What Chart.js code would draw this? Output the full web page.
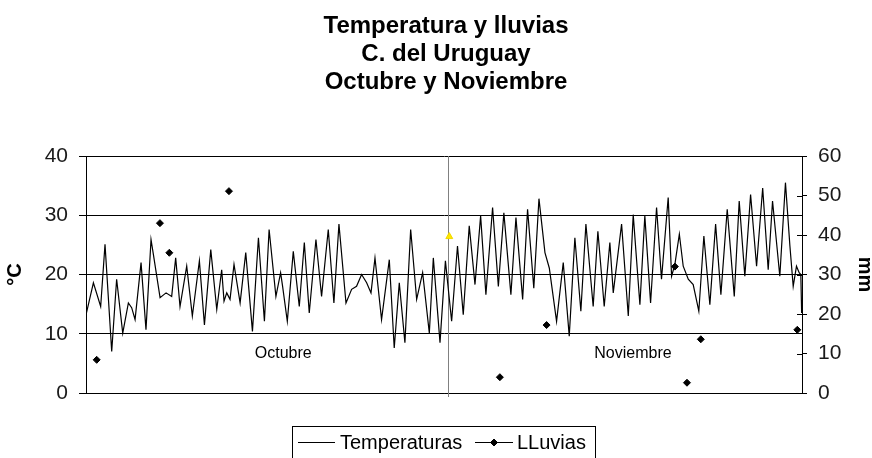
<!DOCTYPE html>
<html lang="es">
<head>
<meta charset="utf-8">
<title>Temperatura y lluvias - C. del Uruguay</title>
<script src="https://cdn.jsdelivr.net/npm/chart.js@4.4.1/dist/chart.umd.min.js"></script>
<style>
  html, body { margin: 0; padding: 0; background: #fff; }
  #grafico { display: block; }
</style>
</head>
<body>
<canvas id="grafico" width="872" height="458"></canvas>
<script>
// Temperaturas (dia contado desde el 1 de octubre, en °C)
const diasTemp = [
    0.00, 0.63, 1.25, 1.62, 2.19, 2.61, 3.13, 3.61, 3.89, 4.18,
    4.69, 5.11, 5.54, 5.74, 6.31, 6.82, 7.30, 7.64, 8.01, 8.58,
    9.06, 9.66, 10.09, 10.63, 11.14, 11.56, 11.76, 11.99, 12.27, 12.61,
    13.13, 13.61, 14.18, 14.69, 15.20, 15.60, 16.18, 16.58, 16.75, 17.15,
    17.66, 18.17, 18.60, 19.02, 19.59, 20.07, 20.64, 21.12, 21.55, 22.15,
    22.63, 23.05, 23.48, 23.91, 24.28, 24.62, 25.18, 25.84, 26.26, 26.69,
    27.17, 27.66, 28.17, 28.68, 29.25, 29.59, 30.16, 30.62, 31.15, 31.65,
    32.14, 32.65, 33.14, 33.62, 34.07, 34.64, 35.13, 35.60, 36.20, 36.63,
    37.20, 37.62, 38.15, 38.59, 39.10, 39.47, 40.09, 40.66, 41.17, 41.65,
    42.16, 42.59, 43.21, 43.61, 44.15, 44.63, 44.92, 45.63, 46.20, 46.62,
    47.19, 47.61, 48.10, 48.61, 49.03, 49.60, 49.89, 50.17, 50.55, 50.88,
    51.31, 51.73, 52.21, 52.64, 53.15, 53.64, 54.09, 54.63, 55.23, 55.65,
    56.13, 56.62, 57.13, 57.65, 58.12, 58.49, 59.11, 59.59, 59.97, 60.25,
    60.53, 60.76, 60.90, 60.97
];
const temperaturas = [
    13.2, 18.6, 14.6, 25.1, 7.0, 19.2, 10.1, 15.2, 14.4, 12.4,
    22.0, 10.7, 25.9, 23.4, 16.1, 16.9, 16.3, 22.8, 14.6, 21.4,
    13.0, 22.3, 11.5, 24.2, 14.1, 20.8, 15.5, 16.9, 15.8, 21.7,
    15.2, 23.7, 10.4, 26.2, 12.1, 27.6, 16.3, 20.3, 18.0, 12.1,
    23.9, 14.6, 25.4, 13.5, 25.9, 16.3, 27.6, 15.2, 28.5, 15.2,
    17.5, 18.0, 20.0, 18.6, 16.9, 22.8, 12.4, 22.5, 7.6, 18.6,
    8.5, 27.6, 15.8, 20.3, 10.1, 22.8, 8.5, 22.3, 12.1, 24.8,
    13.2, 28.2, 18.3, 29.9, 16.6, 31.3, 18.0, 30.4, 16.6, 29.6,
    15.8, 31.0, 17.7, 32.8, 23.7, 21.1, 12.1, 22.0, 9.6, 26.2,
    13.8, 28.5, 14.6, 27.3, 14.6, 25.4, 16.9, 28.5, 13.0, 30.1,
    14.9, 29.9, 15.2, 31.3, 19.2, 33.0, 19.7, 21.7, 26.8, 21.4,
    19.2, 18.3, 13.8, 26.5, 14.9, 28.5, 16.6, 31.0, 16.3, 32.4,
    19.7, 33.5, 21.4, 34.6, 20.8, 32.4, 19.7, 35.5, 24.8, 18.0,
    21.4, 20.3, 20.0, 13.5
];

// Lluvias (dia, mm)
const diasLluvia = [0.91, 6.30, 7.10, 12.18, 35.26, 39.24, 50.17, 51.20, 52.38, 60.60];
const lluvias = [8.4, 43.0, 35.5, 51.1, 4.0, 17.2, 32.0, 2.6, 13.6, 16.0];

// marca amarilla suelta que aparece junto al corte de mes
const diasMarca = [30.95];
const valoresMarca = [26.4];

const titulo = ['Temperatura y lluvias', 'C. del Uruguay', 'Octubre y Noviembre'];
const meses = ['Octubre', 'Noviembre'];
const centroMes = [16.8, 46.6];
const finOctubre = 30.8;

const FUENTE = "'Liberation Sans', Arial, sans-serif";

function aPuntos(xs, ys) {
    return xs.map((x, i) => ({ x: x, y: ys[i] }));
}

// Dibuja titulo, separador de meses, etiquetas y la leyenda con recuadro
const decoracion = {
    id: 'decoracion',
    beforeDatasetsDraw(chart) {
        const ctx = chart.ctx;
        const area = chart.chartArea;
        const x = chart.scales.x;
        const yTemp = chart.scales.yTemp;

        ctx.save();
        // linea gris que separa octubre de noviembre
        const xc = Math.round(x.getPixelForValue(finOctubre)) + 0.5;
        ctx.strokeStyle = '#808080';
        ctx.lineWidth = 1;
        ctx.beginPath();
        ctx.moveTo(xc, area.top);
        ctx.lineTo(xc, area.bottom + 4);
        ctx.stroke();

        // nombres de los meses
        ctx.font = '16px ' + FUENTE;
        ctx.fillStyle = '#000';
        ctx.textAlign = 'center';
        ctx.textBaseline = 'alphabetic';
        meses.forEach((m, i) => {
            ctx.fillText(m, x.getPixelForValue(centroMes[i]), yTemp.getPixelForValue(5.9));
        });
        ctx.restore();
    },
    afterDraw(chart) {
        const ctx = chart.ctx;
        const yLl = chart.scales.yLluvia;
        const dsTemp = chart.data.datasets[0];
        const dsLl = chart.data.datasets[1];

        ctx.save();
        // titulo de tres lineas
        ctx.font = 'bold 24px ' + FUENTE;
        ctx.fillStyle = '#000';
        ctx.textAlign = 'center';
        ctx.textBaseline = 'alphabetic';
        titulo.forEach((t, i) => ctx.fillText(t, 446, 33 + i * 28));

        // marcas del eje derecho que cruzan hacia adentro
        ctx.strokeStyle = '#000';
        ctx.lineWidth = 1;
        yLl.ticks.forEach(t => {
            const yy = Math.round(yLl.getPixelForValue(t.value)) + 0.5;
            ctx.beginPath();
            ctx.moveTo(yLl.left - 5, yy);
            ctx.lineTo(yLl.left, yy);
            ctx.stroke();
        });

        // leyenda
        ctx.strokeRect(292.5, 426.5, 303, 40);
        ctx.font = '20px ' + FUENTE;
        ctx.textAlign = 'left';

        ctx.strokeStyle = dsTemp.borderColor;
        ctx.beginPath();
        ctx.moveTo(298, 442.5);
        ctx.lineTo(335, 442.5);
        ctx.stroke();
        ctx.fillText(dsTemp.label, 340, 449);

        ctx.strokeStyle = dsLl.borderColor;
        ctx.beginPath();
        ctx.moveTo(475, 442.5);
        ctx.lineTo(513, 442.5);
        ctx.stroke();
        ctx.fillStyle = dsLl.backgroundColor;
        Chart.helpers.drawPoint(ctx, {
            pointStyle: dsLl.pointStyle,
            radius: dsLl.pointRadius,
            rotation: 0,
            borderWidth: 1
        }, 494, 442.5);
        ctx.fillStyle = '#000';
        ctx.fillText(dsLl.label, 517, 449);
        ctx.restore();
    }
};

const ctx = document.getElementById('grafico').getContext('2d');

new Chart(ctx, {
    type: 'line',
    data: {
        datasets: [{
            label: 'Temperaturas',
            data: aPuntos(diasTemp, temperaturas),
            borderColor: '#000',
            borderWidth: 1.2,
            pointRadius: 0,
            tension: 0,
            yAxisID: 'yTemp',
            order: 2
        }, {
            label: 'LLuvias',
            data: aPuntos(diasLluvia, lluvias),
            showLine: false,
            pointStyle: 'rectRot',
            pointRadius: 3.5,
            backgroundColor: '#000',
            borderColor: '#000',
            borderWidth: 1,
            yAxisID: 'yLluvia',
            order: 1
        }, {
            label: 'marca',
            data: aPuntos(diasMarca, valoresMarca),
            showLine: false,
            pointStyle: 'triangle',
            pointRadius: 4,
            backgroundColor: '#ffe600',
            borderColor: '#f0d800',
            borderWidth: 1,
            yAxisID: 'yTemp',
            order: 0
        }]
    },
    options: {
        responsive: false,
        animation: false,
        events: [],
        layout: { padding: { top: 156, left: 0, right: 0, bottom: 0 } },
        plugins: {
            legend: { display: false },
            tooltip: { enabled: false },
            title: { display: false }
        },
        scales: {
            x: {
                type: 'linear',
                min: 0,
                max: 61,
                ticks: { display: false },
                grid: { display: false },
                border: { color: '#000', width: 1 },
                afterFit: s => { s.height = 65; }
            },
            yTemp: {
                position: 'left',
                min: 0,
                max: 40,
                ticks: {
                    stepSize: 10,
                    color: '#1a1a1a',
                    padding: 11,
                    font: { family: FUENTE, size: 21 }
                },
                grid: { color: '#000', lineWidth: 1, tickLength: 7 },
                border: { color: '#000', width: 1 },
                title: {
                    display: true,
                    text: '°C',
                    color: '#000',
                    padding: { top: 3, bottom: 0 },
                    font: { family: FUENTE, size: 20, weight: 'bold' }
                },
                afterFit: s => { s.width = 86; }
            },
            yLluvia: {
                position: 'right',
                min: 0,
                max: 60,
                ticks: {
                    stepSize: 10,
                    color: '#1a1a1a',
                    padding: 11,
                    font: { family: FUENTE, size: 21 }
                },
                grid: { drawOnChartArea: false, color: '#000', tickLength: 5 },
                border: { color: '#000', width: 1 },
                title: {
                    display: true,
                    text: 'mm',
                    color: '#000',
                    padding: { top: 0, bottom: 0 },
                    font: { family: FUENTE, size: 20, weight: 'bold', lineHeight: 0.7 }
                },
                afterFit: s => { s.width = 70; }
            }
        }
    },
    plugins: [decoracion]
});
</script>
</body>
</html>
